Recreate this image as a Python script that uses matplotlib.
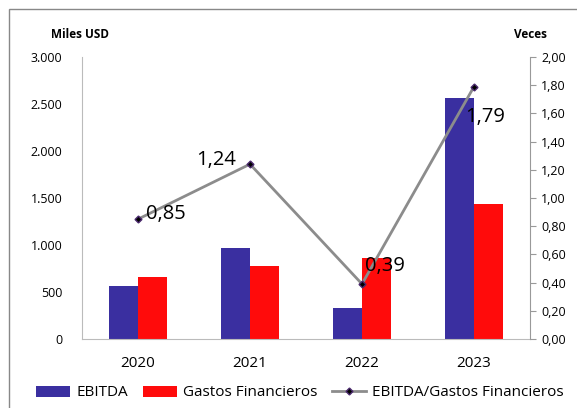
import matplotlib.pyplot as plt
import numpy as np
from matplotlib.patches import Rectangle

plt.rcParams['font.family'] = ['Open Sans', 'DejaVu Sans']

years = ['2020', '2021', '2022', '2023']
ebitda = [564, 968, 330, 2564]
gastos = [660, 777, 862, 1436]
ratio = [0.85, 1.24, 0.39, 1.79]
ratio_labels = ['0,85', '1,24', '0,39', '1,79']

blue = '#3a2fa0'
red = '#ff0b0b'
grey = '#8c8c8c'

fig = plt.figure(figsize=(5.77, 4.08), dpi=100)
fig.patches.append(Rectangle((9/577, -0.1), 1.2, 1 - 9/408 + 0.1, transform=fig.transFigure,
                             fill=False, edgecolor='#888888', linewidth=1))
ax = fig.add_axes([82/577, 1 - 339/408, 448/577, 282/408])
ax2 = ax.twinx()

x = np.arange(len(years))
w = 0.26
ax.bar(x - w/2, ebitda, width=w, color=blue, label='EBITDA', zorder=2)
ax.bar(x + w/2, gastos, width=w, color=red, label='Gastos Financieros', zorder=2)
ax.set_xlim(-0.5, 3.5)
ax.set_ylim(0, 3000)
ax.set_yticks(np.arange(0, 3001, 500))
ax.set_yticklabels(['0', '500', '1.000', '1.500', '2.000', '2.500', '3.000'], fontsize=9)
ax.set_xticks(x)
ax.set_xticklabels(years, fontsize=11)
ax.tick_params(axis='x', length=0, pad=12)
ax.tick_params(axis='y', length=0, pad=14)

ax2.plot(x, ratio, color=grey, linewidth=2, marker='D', markersize=3.5,
         markerfacecolor='black', markeredgecolor='#4b2a6e', label='EBITDA/Gastos Financieros', zorder=3)
ax2.set_ylim(0, 2)
ax2.set_yticks(np.arange(0, 2.01, 0.2))
ax2.set_yticklabels([f'{v:.2f}'.replace('.', ',') for v in np.arange(0, 2.01, 0.2)], fontsize=9)
ax2.tick_params(axis='y', length=4, color='#999999', pad=4)

# label offsets in points: (dx, dy, ha, va)
offsets = [(6, 4, 'left', 'center'), (-10, 3, 'right', 'center'), (2, 13, 'left', 'center'), (-6, -22, 'left', 'center')]
for xi, v, lab, (dx, dy, ha, va) in zip(x, ratio, ratio_labels, offsets):
    ax2.annotate(lab, (xi, v), xytext=(dx, dy), textcoords='offset points',
                 ha=ha, va=va, fontsize=14.5)

for a in (ax, ax2):
    for s in ['top', 'right', 'left', 'bottom']:
        a.spines[s].set_visible(False)
ax.spines['left'].set_visible(True)
ax.spines['bottom'].set_visible(True)
ax2.spines['right'].set_visible(True)
ax.spines['left'].set_color('#bbbbbb')
ax.spines['bottom'].set_color('#bbbbbb')
ax2.spines['right'].set_color('#999999')

fig.text(80/577, 1 - 34/408, 'Miles USD', fontsize=8.5, fontweight='bold', ha='center', va='center')
fig.text(531/577, 1 - 34/408, 'Veces', fontsize=8.5, fontweight='bold', ha='center', va='center')

h1, l1 = ax.get_legend_handles_labels()
h2, l2 = ax2.get_legend_handles_labels()
fig.legend(h1 + h2, l1 + l2, loc='center', bbox_to_anchor=(0.52, 1 - 393/408), ncol=3,
           frameon=False, fontsize=11, handlelength=2.2, handletextpad=0.4, columnspacing=1.0)

fig.savefig('out.png', dpi=100)
